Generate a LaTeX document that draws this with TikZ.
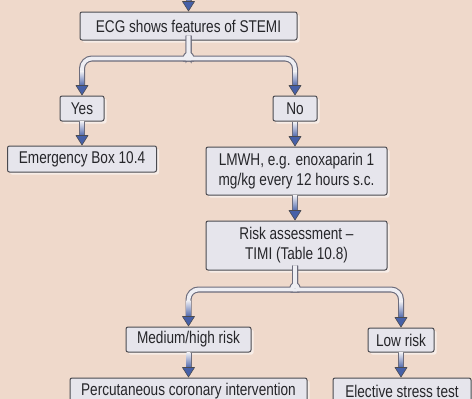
\documentclass[tikz,border=0pt]{standalone}
\usepackage{fontspec}
\setmainfont{Liberation Sans}[FakeStretch=0.8]
\usetikzlibrary{calc,shadows}
\definecolor{bg}{HTML}{EFD9CB}
\definecolor{boxfill}{HTML}{E6E5EC}
\definecolor{boxedge}{HTML}{4A4A50}
\definecolor{textcol}{HTML}{26262A}
\definecolor{tubeedge}{HTML}{6C6C7C}
\definecolor{tubein}{HTML}{EEEEF3}
\definecolor{arrowblue}{HTML}{4660A8}
\tikzset{
  box/.style={draw=boxedge, fill=boxfill, line width=1pt, rounded corners=2pt,
    align=center, inner sep=0pt, text=textcol, font=\fontsize{17}{20}\selectfont,
    drop shadow={shadow xshift=2.5pt, shadow yshift=-2.5pt, fill=white, opacity=0.55}},
  tubeo/.style={draw=tubeedge, line width=6pt, rounded corners=10pt, shorten >=8pt},
  tubei/.style={draw=tubein, line width=3.8pt, rounded corners=10pt, shorten >=8pt},
  tipst/.style={fill=arrowblue, draw=boxedge, line width=0.6pt, line join=round},
}
\newcommand\arrowto[2]{%
  \shade[top color=tubein, bottom color=arrowblue] ($(#1)+(-1.9,-#2)$) rectangle ($(#1)+(1.9,-9)$);
  \filldraw[tipst] ($(#1)+(-6,-10)$) -- ($(#1)+(0,-0.5)$) -- ($(#1)+(6,-10)$) -- cycle;}
\begin{document}
\begin{tikzpicture}[x=1pt,y=-1pt]
\useasboundingbox (0,0) rectangle (472,399);
\clip (0,0) rectangle (472,399);
\fill[bg] (0,0) rectangle (472,399);

% nodes
\node[box, minimum width=217pt, minimum height=28pt] (ecg) at (188.5,26) {ECG shows features of STEMI};
\node[box, minimum width=44pt, minimum height=25pt] (yes) at (82,108.5) {Yes};
\node[box, minimum width=44pt, minimum height=25pt] (no) at (295,108.5) {No};
\node[box, minimum width=149pt, minimum height=26pt] (emerg) at (82,159) {Emergency Box 10.4};
\node[box, minimum width=181pt, minimum height=48pt] (lmwh) at (296.5,171) {LMWH, e.g. enoxaparin 1\\mg/kg every 12 hours s.c.};
\node[box, minimum width=181pt, minimum height=49pt] (risk) at (296.5,245.5) {Risk assessment --\\TIMI (Table 10.8)};
\node[box, minimum width=125pt, minimum height=25pt] (med) at (188.5,339.5) {Medium/high risk};
\node[box, minimum width=66pt, minimum height=24pt] (low) at (401,340) {Low risk};
\node[box, minimum width=237pt, minimum height=26pt] (perc) at (188.5,391) {Percutaneous coronary intervention};
\node[box, minimum width=138pt, minimum height=26pt] (elect) at (402,391) {Elective stress test};

% helper coordinates
\coordinate (top) at (ecg.north |- 0,-6);
\coordinate (tEcg) at (ecg.north);
\coordinate (s1) at (ecg.south);
\coordinate (tYes) at (yes.north);
\coordinate (tNo) at (no.north);
\coordinate (tEm) at (yes.south |- emerg.north);
\coordinate (tLm) at (no.south |- lmwh.north);
\coordinate (lmB) at (no.south |- lmwh.south);
\coordinate (tRisk) at (no.south |- risk.north);
\coordinate (s2) at (no.south |- risk.south);
\coordinate (tMed) at (med.north);
\coordinate (tLow) at (low.north);
\coordinate (tPerc) at (med.south |- perc.north);
\coordinate (tEl) at (low.south |- elect.north);

% tube outlines
\draw[tubeo] (top) -- (tEcg);
\draw[tubeo] (s1) -- ($(s1)+(0,5)$) to[out=-90,in=0] ($(s1)+(-12,18)$) -| (tYes);
\draw[tubeo] (s1) -- ($(s1)+(0,5)$) to[out=-90,in=180] ($(s1)+(12,18)$) -| (tNo);
\draw[tubeo] (yes.south) -- (tEm);
\draw[tubeo] (no.south) -- (tLm);
\draw[tubeo] (lmB) -- (tRisk);
\draw[tubeo] (s2) -- ($(s2)+(0,5)$) to[out=-90,in=0] ($(s2)+(-12,19)$) -| (tMed);
\draw[tubeo] (s2) -- ($(s2)+(0,5)$) to[out=-90,in=180] ($(s2)+(12,19)$) -| (tLow);
\draw[tubeo] (med.south) -- (tPerc);
\draw[tubeo] (low.south) -- (tEl);
% tube interiors
\draw[tubei] (top) -- (tEcg);
\draw[tubei] (s1) -- ($(s1)+(0,5)$) to[out=-90,in=0] ($(s1)+(-12,18)$) -| (tYes);
\draw[tubei] (s1) -- ($(s1)+(0,5)$) to[out=-90,in=180] ($(s1)+(12,18)$) -| (tNo);
\draw[tubei] (yes.south) -- (tEm);
\draw[tubei] (no.south) -- (tLm);
\draw[tubei] (lmB) -- (tRisk);
\draw[tubei] (s2) -- ($(s2)+(0,5)$) to[out=-90,in=0] ($(s2)+(-12,19)$) -| (tMed);
\draw[tubei] (s2) -- ($(s2)+(0,5)$) to[out=-90,in=180] ($(s2)+(12,19)$) -| (tLow);
\draw[tubei] (med.south) -- (tPerc);
\draw[tubei] (low.south) -- (tEl);
% arrow heads
\arrowto{tEcg}{18}
\arrowto{tYes}{24}
\arrowto{tNo}{24}
\arrowto{tEm}{24}
\arrowto{tLm}{24}
\arrowto{tRisk}{25}
\arrowto{tMed}{26}
\arrowto{tLow}{26}
\arrowto{tPerc}{25}
\arrowto{tEl}{25}
\end{tikzpicture}
\end{document}
